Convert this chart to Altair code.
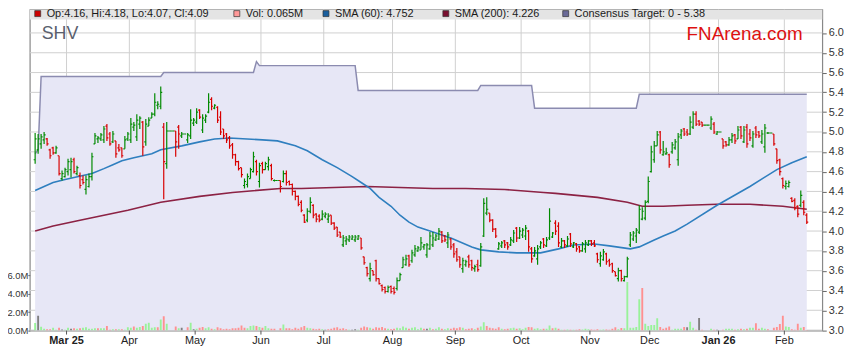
import altair as alt
import numpy as np
import pandas as pd

FONT = "Liberation Sans"

# ---- slot axis: one slot per weekday, Mon 3 Mar 2025 = 0, Fri 14 Feb 2025 = -11 ----
FIRST_SLOT = -11
MONTH_POS = [-0.5, 20.5, 42.5, 64.5, 85.5, 108.5, 129.5, 151.5, 174.5, 194.5, 217.5, 239.5]
MONTH_LBL = ["Mar 25", "Apr", "May", "Jun", "Jul", "Aug", "Sep", "Oct", "Nov", "Dec", "Jan 26", "Feb"]
PRICE_TICKS = [3.0, 3.2, 3.4, 3.6, 3.8, 4.0, 4.2, 4.4, 4.6, 4.8, 5.0, 5.2, 5.4, 5.6, 5.8, 6.0]
VOL_TICKS = [0, 2, 4, 6]

OPEN = [4.72, 4.82, 4.88, 4.92, 4.93, 4.82, 4.84, 4.79, 4.76, 4.53, 4.55,
        4.60, 4.62, 4.72, 4.58, 4.56, 4.52, 4.42, 4.45, 4.55, 4.88,
        4.93, 4.93, 4.92, 5.06, 4.98, 4.90, 4.91, 4.84, 4.84, 4.83,
        4.93, 4.92, 5.05, 4.95, 5.08, 5.10, 4.90, 5.06, 5.14, 5.18,
        5.27, 5.26, 5.05, 4.68, 5.01, 5.01, 5.01, 5.05, 4.96, 4.98,
        4.92, 4.96, 5.09, 5.10, 5.22, 5.02, 5.12, 5.20, 5.33, 5.24,
        5.25, 5.15, 5.03, 4.98, 4.94, 4.87, 4.77, 4.70, 4.64, 4.46,
        4.47, 4.53, 4.60, 4.70, 4.50, 4.68, 4.62, 4.65, 4.66, 4.51,
        4.51, 4.51, 4.50, 4.58, 4.50, 4.47, 4.40, 4.35, 4.29, 4.16,
        4.11, 4.20, 4.26, 4.17, 4.15, 4.12, 4.15, 4.12, 4.16, 4.08,
        4.04, 3.99, 3.86, 3.90, 3.91, 3.92, 3.91, 3.92, 3.93, 3.74,
        3.63, 3.52, 3.60, 3.70, 3.52, 3.45, 3.43, 3.39, 3.44, 3.42,
        3.42, 3.50, 3.63, 3.66, 3.75, 3.70, 3.76, 3.80, 3.81, 3.84,
        3.76, 3.82, 3.86, 3.91, 3.92, 3.99, 3.95, 3.88, 3.92, 3.86,
        3.79, 3.74, 3.62, 3.66, 3.74, 3.70, 3.62, 3.66, 3.65, 3.95,
        4.18, 4.18, 4.11, 4.02, 3.82, 3.85, 3.90, 3.88, 3.86, 3.90,
        4.03, 3.93, 3.96, 3.95, 4.00, 3.82, 3.75, 3.72, 3.84, 3.92,
        3.85, 3.93, 3.94, 4.08, 4.05, 3.84, 3.90, 3.85, 3.97, 3.84,
        3.87, 3.84, 3.80, 3.82, 3.86, 3.90, 3.88, 3.77, 3.67, 3.71,
        3.77, 3.70, 3.67, 3.59, 3.52, 3.60, 3.50, 3.54, 3.86, 3.92,
        3.95, 3.99, 4.12, 4.13, 4.30, 4.60, 4.72, 4.86, 5.00, 4.77,
        4.78, 4.77, 4.80, 4.84, 4.72, 4.97, 5.03, 5.00, 4.98, 5.05,
        5.18, 5.11, 5.10, 5.07, 5.07, 5.04, 5.08, 4.98, 5.00, 4.93,
        4.90, 4.87, 4.92, 4.97, 4.93, 5.05, 4.90, 5.05, 4.98, 4.86,
        5.04, 5.00, 4.90, 4.85, 4.99, 4.99, 4.98, 4.83, 4.72, 4.53,
        4.45, 4.45, 4.33, 4.31, 4.25, 4.26, 4.29, 4.16]

HIGH = [4.99, 4.98, 4.98, 5.00, 4.94, 4.83, 4.85, 4.86, 4.76, 4.61, 4.64,
        4.73, 4.74, 4.74, 4.66, 4.59, 4.56, 4.56, 4.58, 4.79, 4.99,
        4.96, 4.99, 5.06, 5.08, 5.00, 5.01, 4.91, 4.88, 4.84, 4.96,
        5.00, 5.14, 5.10, 5.18, 5.16, 5.11, 5.13, 5.15, 5.20, 5.39,
        5.31, 5.46, 5.09, 5.10, 5.01, 5.01, 5.01, 5.07, 5.00, 4.98,
        4.99, 5.23, 5.14, 5.24, 5.23, 5.18, 5.18, 5.39, 5.35, 5.28,
        5.26, 5.21, 5.03, 4.99, 4.96, 4.89, 4.78, 4.71, 4.64, 4.53,
        4.58, 4.64, 4.80, 4.72, 4.69, 4.70, 4.70, 4.75, 4.68, 4.52,
        4.51, 4.51, 4.61, 4.61, 4.51, 4.48, 4.41, 4.36, 4.31, 4.17,
        4.23, 4.34, 4.27, 4.18, 4.17, 4.21, 4.19, 4.18, 4.16, 4.09,
        4.04, 3.99, 3.96, 3.95, 3.96, 3.96, 3.96, 3.96, 3.93, 3.74,
        3.64, 3.68, 3.60, 3.71, 3.52, 3.46, 3.44, 3.45, 3.45, 3.44,
        3.53, 3.58, 3.74, 3.76, 3.76, 3.81, 3.86, 3.85, 3.94, 3.87,
        3.88, 3.99, 3.99, 3.97, 4.03, 4.00, 3.96, 3.99, 3.93, 3.88,
        3.83, 3.74, 3.73, 3.71, 3.76, 3.71, 3.66, 3.71, 3.88, 4.33,
        4.34, 4.18, 4.12, 4.03, 3.89, 3.90, 3.91, 3.89, 3.94, 4.01,
        4.04, 4.04, 4.03, 4.06, 4.01, 3.84, 3.84, 3.86, 3.90, 3.93,
        3.94, 4.23, 3.99, 4.11, 4.09, 3.93, 3.91, 3.95, 3.98, 3.89,
        3.88, 3.85, 3.89, 3.91, 3.91, 3.91, 3.91, 3.78, 3.79, 3.82,
        3.78, 3.72, 3.68, 3.59, 3.63, 3.61, 3.55, 3.74, 3.99, 4.00,
        4.03, 4.26, 4.24, 4.31, 4.55, 4.86, 4.91, 5.01, 5.01, 4.91,
        4.84, 4.78, 4.90, 4.93, 4.99, 5.03, 5.04, 5.03, 5.16, 5.21,
        5.21, 5.12, 5.10, 5.07, 5.07, 5.16, 5.10, 5.01, 5.00, 4.93,
        4.91, 4.95, 4.99, 4.98, 5.06, 5.06, 5.06, 5.08, 5.03, 5.01,
        5.06, 5.01, 5.02, 5.08, 5.00, 4.99, 4.98, 4.83, 4.73, 4.54,
        4.51, 4.51, 4.34, 4.33, 4.26, 4.41, 4.31, 4.18]

LOW = [4.68, 4.78, 4.83, 4.88, 4.86, 4.73, 4.77, 4.78, 4.56, 4.51, 4.54,
       4.56, 4.54, 4.58, 4.56, 4.43, 4.47, 4.37, 4.44, 4.51, 4.88,
       4.89, 4.91, 4.89, 4.91, 4.86, 4.89, 4.74, 4.80, 4.74, 4.83,
       4.91, 4.89, 5.01, 4.91, 5.03, 4.76, 4.86, 5.06, 5.14, 5.16,
       5.23, 5.23, 4.32, 4.63, 5.01, 5.01, 4.75, 4.83, 4.94, 4.98,
       4.89, 4.93, 5.06, 5.08, 5.13, 4.99, 5.09, 5.19, 5.22, 5.23,
       5.09, 4.97, 4.93, 4.89, 4.83, 4.73, 4.66, 4.61, 4.54, 4.43,
       4.44, 4.53, 4.59, 4.56, 4.44, 4.58, 4.62, 4.61, 4.51, 4.50,
       4.51, 4.39, 4.49, 4.46, 4.46, 4.36, 4.31, 4.25, 4.19, 4.08,
       4.09, 4.18, 4.13, 4.09, 4.09, 4.11, 4.13, 4.08, 4.06, 4.01,
       3.94, 3.93, 3.84, 3.86, 3.89, 3.91, 3.89, 3.91, 3.81, 3.66,
       3.54, 3.49, 3.55, 3.49, 3.46, 3.39, 3.37, 3.38, 3.37, 3.36,
       3.40, 3.50, 3.63, 3.65, 3.64, 3.68, 3.74, 3.79, 3.81, 3.81,
       3.73, 3.81, 3.84, 3.90, 3.91, 3.88, 3.89, 3.83, 3.81, 3.73,
       3.69, 3.63, 3.58, 3.64, 3.63, 3.60, 3.59, 3.59, 3.64, 3.94,
       4.16, 4.09, 3.99, 3.93, 3.81, 3.83, 3.83, 3.81, 3.85, 3.88,
       3.89, 3.92, 3.93, 3.91, 3.79, 3.68, 3.74, 3.66, 3.82, 3.83,
       3.84, 3.91, 3.93, 3.96, 3.84, 3.83, 3.83, 3.84, 3.84, 3.83,
       3.79, 3.78, 3.79, 3.78, 3.85, 3.85, 3.84, 3.68, 3.64, 3.70,
       3.66, 3.64, 3.58, 3.54, 3.49, 3.49, 3.49, 3.53, 3.84, 3.90,
       3.88, 3.97, 4.11, 4.11, 4.28, 4.59, 4.69, 4.86, 4.78, 4.76,
       4.77, 4.64, 4.78, 4.82, 4.66, 4.93, 4.96, 4.96, 4.97, 5.03,
       5.06, 5.06, 5.05, 5.07, 5.07, 5.02, 4.98, 4.97, 5.00, 4.83,
       4.85, 4.86, 4.89, 4.88, 4.93, 4.93, 4.89, 4.84, 4.91, 4.84,
       4.94, 4.94, 4.88, 4.79, 4.98, 4.99, 4.86, 4.68, 4.56, 4.43,
       4.42, 4.44, 4.29, 4.21, 4.14, 4.24, 4.16, 4.07]

CLOSE = [4.93, 4.93, 4.95, 4.97, 4.88, 4.76, 4.79, 4.84, 4.58, 4.58, 4.62,
         4.70, 4.70, 4.60, 4.64, 4.46, 4.49, 4.52, 4.55, 4.75, 4.96,
         4.94, 4.97, 5.03, 4.94, 4.88, 4.98, 4.78, 4.82, 4.76, 4.92,
         4.98, 5.08, 5.07, 5.12, 5.14, 4.85, 5.08, 5.12, 5.18, 5.30,
         5.28, 5.40, 4.70, 5.01, 5.01, 5.01, 4.90, 4.98, 4.98, 4.98,
         4.97, 5.12, 5.12, 5.20, 5.15, 5.14, 5.16, 5.30, 5.26, 5.27,
         5.12, 5.00, 4.96, 4.92, 4.86, 4.77, 4.70, 4.63, 4.57, 4.50,
         4.55, 4.62, 4.75, 4.60, 4.66, 4.62, 4.68, 4.72, 4.53, 4.51,
         4.51, 4.45, 4.58, 4.49, 4.47, 4.40, 4.35, 4.27, 4.21, 4.09,
         4.20, 4.29, 4.16, 4.12, 4.11, 4.17, 4.17, 4.15, 4.08, 4.03,
         3.96, 3.94, 3.93, 3.92, 3.94, 3.94, 3.94, 3.95, 3.83, 3.68,
         3.57, 3.62, 3.56, 3.52, 3.47, 3.41, 3.39, 3.43, 3.39, 3.38,
         3.50, 3.56, 3.71, 3.72, 3.66, 3.78, 3.82, 3.83, 3.88, 3.86,
         3.86, 3.95, 3.93, 3.95, 4.00, 3.90, 3.91, 3.96, 3.84, 3.77,
         3.71, 3.66, 3.70, 3.69, 3.66, 3.63, 3.64, 3.61, 3.84, 4.28,
         4.22, 4.11, 4.02, 3.95, 3.87, 3.88, 3.86, 3.84, 3.91, 3.98,
         3.93, 4.00, 4.01, 4.03, 3.84, 3.72, 3.80, 3.82, 3.88, 3.86,
         3.91, 4.10, 3.98, 4.00, 3.88, 3.90, 3.86, 3.92, 3.87, 3.88,
         3.82, 3.80, 3.87, 3.88, 3.90, 3.87, 3.85, 3.71, 3.75, 3.79,
         3.69, 3.66, 3.60, 3.55, 3.60, 3.52, 3.54, 3.72, 3.96, 3.98,
         4.01, 4.22, 4.20, 4.29, 4.50, 4.80, 4.86, 4.97, 4.82, 4.80,
         4.79, 4.67, 4.87, 4.90, 4.95, 5.01, 4.98, 4.98, 5.10, 5.18,
         5.08, 5.08, 5.07, 5.07, 5.07, 5.13, 5.00, 5.00, 5.00, 4.86,
         4.87, 4.92, 4.96, 4.91, 5.02, 4.96, 5.02, 4.88, 4.94, 4.98,
         4.97, 4.96, 4.98, 5.04, 4.99, 4.99, 4.88, 4.71, 4.60, 4.46,
         4.48, 4.49, 4.30, 4.23, 4.17, 4.36, 4.19, 4.09]

VOLUME_M = [0.82, 1.60, 0.43, 0.20, 0.14, 0.14, 0.30, 0.10, 0.30, 0.12, 0.08,
            0.30, 0.20, 0.25, 0.20, 0.25, 0.30, 0.35, 0.20, 0.20, 0.25,
            0.25, 0.25, 0.25, 0.50, 0.10, 0.15, 0.15, 0.15, 0.15, 0.10,
            0.35, 0.30, 0.45, 0.30, 0.40, 0.50, 0.75, 0.85, 0.30, 0.35,
            0.35, 1.20, 1.55, 0.75, 0.00, 0.00, 0.45, 0.25, 0.30, 0.00,
            0.35, 0.85, 0.15, 0.20, 0.30, 0.40, 0.25, 0.35, 0.20, 0.15,
            0.35, 0.25, 0.15, 0.20, 0.15, 0.25, 0.25, 0.30, 0.55, 0.30,
            0.25, 0.50, 0.55, 0.50, 0.40, 0.30, 0.50, 0.25, 0.20, 0.20,
            0.00, 0.25, 0.65, 0.25, 0.25, 0.15, 0.30, 0.20, 0.35, 0.50,
            0.30, 0.25, 0.20, 0.15, 0.20, 0.15, 0.10, 0.15, 0.20, 0.30,
            0.35, 0.20, 0.25, 0.15, 0.10, 0.10, 0.15, 0.10, 0.30, 0.45,
            0.35, 0.30, 0.20, 0.35, 0.30, 0.40, 0.25, 0.20, 0.15, 0.20,
            0.30, 0.25, 0.45, 0.30, 0.20, 0.30, 0.35, 0.15, 0.30, 0.20,
            0.20, 0.30, 0.15, 0.20, 0.35, 0.20, 0.15, 0.25, 0.20, 0.30,
            0.25, 0.35, 0.30, 0.15, 0.20, 0.25, 0.15, 0.30, 0.45, 0.90,
            0.50, 0.30, 0.25, 0.20, 0.35, 0.20, 0.15, 0.20, 0.25, 0.30,
            0.20, 0.25, 0.15, 0.30, 0.40, 0.35, 0.20, 0.25, 0.15, 0.20,
            0.20, 0.55, 0.25, 0.30, 0.20, 0.10, 0.08, 0.12, 0.10, 0.08,
            0.10, 0.15, 0.12, 0.20, 0.15, 0.12, 0.10, 0.15, 0.10, 0.12,
            0.12, 0.10, 0.20, 0.36, 0.15, 0.29, 0.25, 5.25, 0.30, 0.30,
            0.40, 3.40, 4.60, 0.75, 0.50, 0.60, 0.60, 1.33, 0.40, 0.20,
            0.30, 0.45, 0.10, 0.20, 0.20, 0.20, 0.40, 0.35, 0.96, 0.30,
            0.10, 1.35, 0.10, 0.00, 0.00, 0.20, 0.10, 0.10, 0.00, 0.10,
            0.20, 0.20, 0.20, 0.10, 0.15, 0.20, 0.15, 0.20, 0.30, 0.30,
            0.79, 0.20, 0.30, 0.20, 0.15, 0.00, 0.30, 0.40, 0.72, 1.60,
            0.45, 0.40, 0.15, 0.10, 0.75, 0.30, 0.40, 0.065]

SMA60_SLOT = [-11, -8, -5, -1, 2, 5, 8, 12, 15, 18, 22, 25, 28, 31, 38, 44, 49, 54, 65, 70,
              76, 80, 85, 90, 95, 98, 101, 104, 108, 111, 114, 117, 120, 122, 128, 135, 138,
              144, 150, 158, 161, 164, 169, 176, 181, 188, 191, 196, 199, 203, 207, 217, 228,
              237, 242, 247]
SMA60_VAL = [4.41, 4.45, 4.49, 4.52, 4.54, 4.56, 4.58, 4.63, 4.67, 4.71, 4.74, 4.76, 4.78, 4.82,
             4.86, 4.90, 4.93, 4.94, 4.92, 4.91, 4.86, 4.81, 4.72, 4.64, 4.55, 4.49, 4.43, 4.34,
             4.25, 4.16, 4.09, 4.04, 4.01, 3.99, 3.93, 3.84, 3.81, 3.79, 3.78, 3.78, 3.80, 3.82,
             3.86, 3.87, 3.85, 3.82, 3.84, 3.91, 3.95, 4.00, 4.07, 4.26, 4.45, 4.62, 4.69, 4.75]

SMA200_SLOT = [-11, -5, 4, 12, 20, 31, 44, 55, 71, 78, 100, 122, 133, 146, 159, 163, 177, 187,
               192, 199, 207, 217, 228, 239, 247]
SMA200_VAL = [4.00, 4.05, 4.11, 4.16, 4.21, 4.29, 4.35, 4.39, 4.43, 4.43, 4.45, 4.43, 4.43, 4.42,
              4.39, 4.38, 4.34, 4.29, 4.25, 4.25, 4.26, 4.27, 4.27, 4.25, 4.22]

TARGET_SLOT = [-11, -10, -9, 31, 32, 62, 63, 64, 96, 97, 137, 138, 155, 156, 190, 191, 247]
TARGET_VAL = [4.78, 4.82, 5.56, 5.56, 5.60, 5.60, 5.71, 5.67, 5.67, 5.42, 5.42, 5.47, 5.47,
              5.24, 5.24, 5.38, 5.38]

# ---- tables ----
n = len(CLOSE)
assert len(OPEN) == len(HIGH) == len(LOW) == len(VOLUME_M) == n == 259
bars = pd.DataFrame({"w": list(range(FIRST_SLOT, FIRST_SLOT + n)),
                     "O": OPEN, "H": HIGH, "L": LOW, "C": CLOSE, "V": VOLUME_M})
bars["dir"] = np.where(bars.C >= bars.O, "up", "down")
prev = bars.C.shift(1).fillna(bars.O)
bars["vdir"] = np.where(bars.C > prev, "vup", np.where(bars.C < prev, "vdown", "vflat"))
vol = bars[bars.V > 0]
sma60 = pd.DataFrame({"w": SMA60_SLOT, "v": SMA60_VAL})
sma200 = pd.DataFrame({"w": SMA200_SLOT, "v": SMA200_VAL})
target = pd.DataFrame({"w": TARGET_SLOT, "v": TARGET_VAL})
months = pd.DataFrame({"pos": MONTH_POS, "lbl": MONTH_LBL})
months["yearmark"] = months.lbl.str.contains(" ")
pticks = pd.DataFrame({"p": PRICE_TICKS})

# ---- styling ----
GREEN, RED = "#008a00", "#d80000"
LAV = "#e7e7f6"
GRID = "#cfcfcf"
W, H = 800, 324
PMIN, PMAX = 2.995, 6.235
xscale = alt.Scale(domain=[-11.13, 250.53], nice=False, zero=False)
pscale = alt.Scale(domain=[PMIN, PMAX], nice=False, zero=False)
vscale = alt.Scale(domain=[0, 34.7], nice=False, zero=True)

p_axis = alt.Axis(orient="right", values=PRICE_TICKS, format=".1f", grid=False,
                  domain=False, tickSize=4, tickColor="#666666", labelPadding=2, labelFontSize=11,
                  labelColor="#333333", labelFont=FONT, title=None, labelOverlap=False)
v_axis = alt.Axis(orient="left", values=VOL_TICKS, labelExpr="format(datum.value, '.1f') + 'M'",
                  grid=False, domain=False, tickSize=2, tickColor="#666666", labelPadding=0,
                  labelFontSize=9.5, labelColor="#333333", labelFont=FONT, title=None)

X = alt.X("w:Q", scale=xscale, axis=None)
YP = alt.Y("v:Q", scale=pscale, axis=None)
XM = alt.X("pos:Q", scale=xscale, axis=None)

# price axis carrier (no visible mark)
axes_layer = alt.Chart(target).mark_point(opacity=0, size=1).encode(
    x=X, y=alt.Y("v:Q", scale=pscale, axis=p_axis))

# grid lines through the scales
vgrid = alt.Chart(months).mark_rule(color=GRID, strokeWidth=1).encode(
    x=XM, y=alt.value(0), y2=alt.value(H))
hgrid = alt.Chart(pticks).mark_rule(color=GRID, strokeWidth=1).encode(
    y=alt.Y("p:Q", scale=pscale, axis=None), x=alt.value(0), x2=alt.value(W))
xticks = alt.Chart(months).mark_rule(color="#555555", strokeWidth=1).encode(
    x=XM, y=alt.value(H), y2=alt.value(H + 4))


def month_labels(is_year, weight):
    return alt.Chart(months).transform_filter(
        "datum.yearmark" if is_year else "!datum.yearmark"
    ).mark_text(
        baseline="middle", align="center", font=FONT, fontSize=11, fontWeight=weight,
        color="#222222"
    ).encode(x=XM, y=alt.value(H + 11), text="lbl:N")


area = alt.Chart(target).mark_area(color=LAV, opacity=1, clip=True).encode(
    x=X, y=YP, y2=alt.datum(PMIN))
tline = alt.Chart(target).mark_line(color="#8b8bb0", strokeWidth=1.5, clip=True).encode(x=X, y=YP)

volbars = alt.Chart(vol).mark_bar(size=1.9, clip=True).encode(
    x=X,
    y=alt.Y("V:Q", scale=vscale, axis=v_axis),
    color=alt.Color("vdir:N", scale=alt.Scale(domain=["vup", "vdown", "vflat"],
                                               range=["#99f299", "#ff9090", "#808080"]), legend=None))

l200 = alt.Chart(sma200).mark_line(color="#8c2244", strokeWidth=1.6, clip=True).encode(x=X, y=YP)
l60 = alt.Chart(sma60).mark_line(color="#2f7fbf", strokeWidth=1.6, clip=True).encode(x=X, y=YP)
col = alt.Color("dir:N", scale=alt.Scale(domain=["up", "down"], range=[GREEN, RED]), legend=None)
ohlc = alt.Chart(bars)
hl = ohlc.mark_rule(strokeWidth=1.2, clip=True).encode(
    x=X, y=alt.Y("L:Q", scale=pscale, axis=None), y2="H:Q", color=col)
otick = ohlc.transform_calculate(xa="datum.w - 0.5").mark_rule(strokeWidth=1.2, clip=True).encode(
    x=alt.X("xa:Q", scale=xscale, axis=None), x2="w:Q", y=alt.Y("O:Q", scale=pscale, axis=None), color=col)
ctick = ohlc.transform_calculate(xb="datum.w + 0.5").mark_rule(strokeWidth=1.2, clip=True).encode(
    x=X, x2="xb:Q", y=alt.Y("C:Q", scale=pscale, axis=None), color=col)


def text(t, x, y, size=11, color="#1a1a1a"):
    return alt.Chart(pd.DataFrame({"t": [t]})).mark_text(
        align="left", baseline="middle", font=FONT, fontSize=size, color=color
    ).encode(text="t:N", x=alt.value(x), y=alt.value(y))


def swatch(x, color):
    return alt.Chart(pd.DataFrame({"a": [0]})).mark_rect(
        fill=color, stroke="#333333", strokeWidth=0.7
    ).encode(x=alt.value(x), x2=alt.value(x + 6), y=alt.value(1), y2=alt.value(7))


header = alt.Chart(pd.DataFrame({"a": [0]})).mark_rect(color="#e4e4e4").encode(
    x=alt.value(0), x2=alt.value(W), y=alt.value(0), y2=alt.value(10))

LEGEND_TXT = ["Op:4.16, Hi:4.18, Lo:4.07, Cl:4.09", "Vol: 0.065M", "SMA (60): 4.752",
              "SMA (200): 4.226", "Consensus Target: 0 - 5.38"]
LEGEND_COL = ["#cc0000", "#ff9999", "#1a5f9e", "#7a1030", "#6a6a98"]
LEGEND_X = [5, 206, 296, 417, 538]

layers = [axes_layer, vgrid, hgrid, area, tline, volbars, l200, l60, hl, otick, ctick,
          xticks, month_labels(False, "normal"), month_labels(True, "bold"), header]
for t, c, x in zip(LEGEND_TXT, LEGEND_COL, LEGEND_X):
    layers.append(swatch(x, c))
    layers.append(text(t, x + 12, 4))
layers.append(text("SHV", 12, 25, size=18, color="#5a5f6e"))
layers.append(text("FNArena.com", 663, 25, size=19, color="#dd1111"))

chart = alt.layer(*layers).resolve_scale(y="independent", color="independent").properties(
    width=W, height=H,
    autosize=alt.AutoSizeParams(type="none"),
    padding={"left": 22, "top": 0, "right": 29, "bottom": 27},
    background="white",
).configure_view(stroke="#888888", strokeWidth=1.2)

chart.save("out.html", embed_options={"renderer": "svg", "actions": False})
